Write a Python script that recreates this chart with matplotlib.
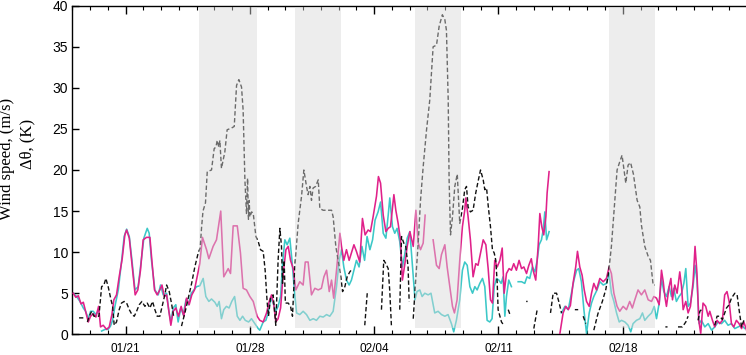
import numpy as np
import matplotlib
matplotlib.use("Agg")
import matplotlib.pyplot as plt
from matplotlib.ticker import MultipleLocator

nan = np.nan

# x in days relative to 01/21
tick_days = [0, 7, 14, 21, 28]
tick_labels = ["01/21", "01/28", "02/04", "02/11", "02/18"]

shade_start = [4.14, 9.53, 16.29, 27.23]
shade_end = [7.41, 12.11, 18.88, 29.80]

pink_day = [-2.95, -2.80, -2.66, -2.51, -2.38, -2.25, -2.10, -1.97, -1.82, -1.67, -1.52, -1.41, -1.26, -1.07, -0.92,
            -0.77, -0.66, -0.51, -0.36, -0.19, -0.04, 0.06, 0.21, 0.36, 0.54, 0.69, 0.84, 0.99, 1.18, 1.37, 1.48,
            1.63, 1.78, 1.93, 2.05, 2.18, 2.31, 2.44, 2.55, 2.68, 2.83, 2.98, 3.13, 3.28, 3.43, 3.58, 3.73, 3.88,
            4.03, 4.18, 4.33, 4.56, 4.69, 4.93, 5.12, 5.36, 5.53, 5.78, 5.91, 6.06, 6.29, 6.47, 6.62, 6.81, 7.0,
            7.19, 7.41, 7.56, 7.75, 7.94, 8.09, 8.22, 8.35, 8.46, 8.59, 8.73, 8.88, 9.03, 9.16, 9.29, 9.44, 9.59,
            9.81, 10.0, 10.12, 10.28, 10.47, 10.66, 10.85, 11.03, 11.17, 11.32, 11.47, 11.6, 11.72, 11.88, 12.07,
            12.16, 12.29, 12.44, 12.59, 12.72, 12.86, 13.0, 13.19, 13.34, 13.49, 13.66, 13.79, 13.94, 14.13, 14.24,
            14.36, 14.51, 14.66, 14.79, 14.92, 15.11, 15.22, 15.35, 15.48, 15.59, 15.73, 15.86, 16.01, 16.2, 16.35,
            16.48, 16.61, 16.76, 16.87, 17.1, 17.32, 17.51, 17.66, 17.79, 17.98, 18.11, 18.26, 18.41, 18.52, 18.67,
            18.82, 18.97, 19.1, 19.16, 19.29, 19.42, 19.57, 19.72, 19.85, 19.99, 20.14, 20.29, 20.42, 20.55, 20.66,
            20.79, 20.93, 21.08, 21.21, 21.32, 21.45, 21.6, 21.73, 21.86, 22.01, 22.16, 22.3, 22.43, 22.58, 22.71,
            22.85, 22.95, 23.1, 23.24, 23.33, 23.44, 23.55, 23.67, 23.74, 23.85, 24.2, 24.46, 24.64, 24.79, 24.93,
            25.05, 25.2, 25.35, 25.45, 25.58, 25.71, 25.83, 25.96, 26.11, 26.24, 26.37, 26.52, 26.71, 26.9, 27.08,
            27.23, 27.36, 27.5, 27.68, 27.83, 28.02, 28.21, 28.39, 28.54, 28.68, 28.86, 29.05, 29.24, 29.43, 29.62,
            29.75, 29.9, 30.05, 30.18, 30.28, 30.37, 30.46, 30.61, 30.71, 30.8, 30.93, 31.06, 31.21, 31.31, 31.4,
            31.55, 31.68, 31.81, 31.96, 32.07, 32.18, 32.28, 32.39, 32.52, 32.67, 32.81, 32.9, 33.05, 33.18, 33.31,
            33.46, 33.61, 33.74, 33.87, 33.99, 34.12, 34.25, 34.4, 34.55, 34.69, 34.82, 34.97]
pink_val = [5.0, 4.5, 4.7, 3.7, 3.9, 2.8, 1.5, 2.2, 2.5, 2.1, 3.4, 0.9, 1.1, 0.6, 0.9,
            2.4, 4.2, 4.8, 7.0, 9.2, 12.1, 12.7, 11.7, 8.6, 4.8, 5.4, 7.8, 11.5, 11.8, 11.8, 9.0,
            5.4, 4.8, 5.4, 6.0, 4.6, 4.8, 2.8, 1.1, 2.8, 3.2, 2.2, 3.4, 2.2, 4.4, 3.6, 4.8, 5.4,
            7.0, 8.6, 11.8, 10.3, 9.2, 10.7, 11.5, 15.0, 7.0, 8.0, 7.4, 13.2, 13.2, 9.9, 5.6, 5.4, 4.6,
            4.0, 2.2, 1.7, 1.5, 2.6, 4.0, 4.8, 3.6, 1.5, 1.9, 3.2, 7.4, 10.3, 10.7, 9.0, 8.0, 5.4,
            6.4, 6.0, 8.8, 8.8, 4.8, 5.6, 5.4, 5.6, 7.0, 7.8, 5.2, 6.6, 4.4, 7.8, 12.3,
            10.7, 9.0, 10.3, 9.0, 9.9, 10.9, 10.1, 8.8, 14.1, 12.1, 12.7, 12.5, 14.3, 16.8, 19.2,
            18.4, 14.5, 12.5, 12.9, 13.1, 17.0, 15.1, 13.5, 11.5, 6.6, 8.6, 10.7, 12.5, 10.7, 15.1,
            11.1, 10.3, 11.1, 14.5, nan, 11.5, 8.4, 8.0, 9.7, 10.9, 8.2, 5.8, 3.4, 2.6, 4.2,
            9.0, 13.1, 15.1, 16.6, 14.3, 11.5, 7.0, 8.6, 8.4, 9.9, 11.5, 10.9, 8.0, 4.2, 3.8,
            9.0, 8.2, 9.0, 10.5, 5.0, 7.4, 8.0, 7.8, 8.6, 7.8, 9.0, 8.0, 8.2, 7.4, 8.4,
            9.2, 7.8, 6.6, 10.9, 14.7, 13.1, 12.1, 14.3, 17.2, 19.8, nan, 0.1, 2.6, 3.4, 3.0,
            3.5, 6.2, 8.2, 10.1, 8.2, 7.2, 5.4, 4.0, 3.4, 5.0, 6.2, 5.4, 6.8, 6.4, 6.8,
            8.2, 7.4, 5.0, 3.4, 2.8, 3.4, 3.0, 4.0, 3.2, 4.2, 5.4, 4.8, 5.4, 4.2, 4.0,
            4.6, 4.4, 3.6, 7.8, 6.4, 4.6, 3.4, 5.8, 6.8, 4.2, 6.0, 5.0, 7.6, 5.8, 3.0,
            4.0, 2.6, 3.4, 6.4, 10.7, 7.4, 1.7, 0.1, 3.8, 3.4, 2.2, 2.8, 1.7, 0.9, 1.7,
            1.3, 1.7, 4.8, 5.2, 4.0, 1.3, 0.9, 1.7, 1.3, 0.7, 1.5, 0.5]

cyan_day = [-2.95, -2.76, -2.57, -2.38, -2.25, -2.10, -1.97, -1.82, -1.67, -1.54, -1.45, -1.35, -1.15, -0.98,
            -0.85, -0.73, -0.60, -0.41, -0.22, -0.08, 0.06, 0.21, 0.36, 0.53, 0.71, 0.84, 1.03, 1.22, 1.33, 1.46,
            1.65, 1.84, 1.97, 2.12, 2.31, 2.44, 2.55, 2.68, 2.83, 2.96, 3.11, 3.25, 3.40, 3.55, 3.70, 3.85, 4.00,
            4.18, 4.37, 4.52, 4.69, 4.84, 5.03, 5.16, 5.27, 5.40, 5.53, 5.68, 5.83, 5.98, 6.14, 6.29, 6.44, 6.59,
            6.74, 6.93, 7.09, 7.28, 7.47, 7.56, 7.75, 7.90, 8.03, 8.18, 8.31, 8.46, 8.59, 8.73, 8.84, 8.97, 9.10,
            9.25, 9.37, 9.49, 9.63, 9.81, 10.0, 10.19, 10.38, 10.57, 10.75, 10.94, 11.13, 11.32, 11.5, 11.69,
            11.88, 12.03, 12.16, 12.29, 12.44, 12.59, 12.72, 12.86, 13.0, 13.15, 13.31, 13.46, 13.6, 13.76, 13.91,
            14.05, 14.22, 14.36, 14.51, 14.66, 14.79, 14.88, 15.03, 15.16, 15.29, 15.44, 15.59, 15.72, 15.86,
            16.01, 16.3, 16.41, 16.57, 16.7, 16.85, 17.04, 17.2, 17.41, 17.6, 17.79, 17.98, 18.16, 18.35, 18.48,
            18.63, 18.82, 18.97, 19.1, 19.24, 19.39, 19.54, 19.67, 19.8, 19.95, 20.1, 20.23, 20.36, 20.51, 20.64,
            20.76, 20.89, 21.02, 21.15, 21.26, 21.36, 21.45, 21.58, 21.73, 21.9, 22.11, 22.3, 22.48, 22.61,
            22.76, 22.91, 23.05, 23.18, 23.29, 23.42, 23.52, 23.61, 23.71, 23.8, 23.85, 24.2, 24.55, 24.74,
            24.93, 25.11, 25.25, 25.4, 25.52, 25.67, 25.81, 25.96, 26.11, 26.24, 26.37, 26.55, 26.71, 26.9,
            27.08, 27.23, 27.36, 27.5, 27.65, 27.8, 27.93, 28.12, 28.3, 28.45, 28.58, 28.77, 28.96, 29.11, 29.24,
            29.43, 29.62, 29.77, 29.9, 30.05, 30.18, 30.31, 30.46, 30.61, 30.74, 30.87, 31.02, 31.17, 31.31,
            31.44, 31.55, 31.68, 31.81, 31.96, 32.07, 32.18, 32.3, 32.43, 32.62, 32.81, 33.0, 33.18, 33.37,
            33.56, 33.74, 33.93, 34.12, 34.31, 34.5, 34.69, 34.87, 34.97]
cyan_val = [5.0, 4.6, 4.0, 3.2, 2.8, 1.9, 2.8, 2.8, 2.4, 2.8, nan, 0.4, 0.6, 0.6,
            1.0, 1.7, 3.4, 5.4, 9.0, 11.9, 12.8, 11.9, 9.0, 5.4, 5.8, 8.2, 11.7, 12.9, 12.3, 9.0,
            5.4, 4.8, 6.0, 4.8, 5.0, 2.8, 1.5, 3.2, 3.6, 1.5, 3.2, 2.4, 4.2, 3.6, 5.0, 5.4, 5.8,
            5.9, 6.8, 4.6, 4.0, 4.3, 3.9, 3.4, 4.0, 1.9, 3.0, 3.4, 3.2, 4.0, 4.6, 2.2, 1.7, 2.2,
            1.7, 1.5, 1.9, 1.3, 0.7, 0.5, 1.5, 1.7, 2.6, 4.4, 3.8, 2.8, 3.4, 4.6, 8.6, 11.5, 10.9,
            11.7, 9.0, 5.8, 2.6, 2.4, 2.8, 2.4, 1.7, 1.9, 1.7, 2.2, 2.1, 2.4, 2.2, 2.8,
            5.8, 9.0, 10.3, 8.2, 6.6, 6.0, 6.6, 7.8, 9.0, 8.2, 10.7, 9.0, 11.9, 10.3, 11.5,
            13.9, 14.9, 16.1, 12.3, 11.7, 14.5, 16.6, 13.1, 12.3, 12.9, 11.3, 8.2, 9.7, 11.7,
            12.5, 4.2, 5.2, 5.4, 4.6, 5.0, 4.8, 5.0, 2.6, 2.8, 2.4, 2.2, 2.4, 1.3, 0.3,
            1.7, 4.2, 7.8, 8.8, 8.4, 5.8, 5.0, 5.8, 5.4, 6.2, 6.8, 5.8, 1.7, 1.5, 1.9,
            5.8, 6.8, 6.6, 6.2, 7.0, 2.2, 4.6, 6.6, 5.8, nan, 6.4, 6.4, 6.2, 7.0,
            6.8, 8.2, 7.6, 9.0, 10.9, 11.5, 12.7, 14.9, 11.5, 12.1, 12.5, nan, 2.6, 3.4,
            3.0, 5.0, 6.6, 7.8, 8.0, 6.4, 3.0, 0.1, 2.6, 3.8, 4.6, 5.4, 6.4, 6.0,
            6.2, 7.4, 5.0, 4.0, 2.6, 1.5, 1.7, 1.5, 1.1, 0.3, 1.3, 1.7, 1.9, 2.6, 1.7,
            2.2, 2.6, 3.4, 1.9, 3.8, 6.8, 5.2, 4.6, 5.8, 4.6, 5.6, 4.0, 4.6, 5.0,
            6.2, 8.0, 3.4, 3.8, 5.8, 8.4, 6.6, 1.3, 1.7, 0.9, 1.3, 0.5, 0.9, 1.5,
            1.3, 1.7, 1.1, 1.3, 0.7, 0.9, 1.1, 0.7, 0.9]

dash_day = [-2.62, -2.38, -2.27, -2.15, -2.05, -1.91, -1.78, -1.63, -1.5, -1.35, -1.22, -1.11, -0.98, -0.84,
            -0.73, -0.64, -0.51, -0.36, -0.23, -0.08, 0.06, 0.21, 0.36, 0.49, 0.62, 0.77, 0.92, 1.09, 1.22, 1.37,
            1.52, 1.65, 1.78, 1.93, 2.08, 2.21, 2.31, 2.46, 2.6, 2.72, 2.9, 3.15, 3.34, 3.53, 3.72, 3.9, 4.09,
            4.2, 4.28, 4.36, 4.5, 4.6, 4.84, 4.99, 5.09, 5.16, 5.25, 5.31, 5.4, 5.59, 5.72, 5.96, 6.12, 6.25,
            6.38, 6.53, 6.62, 6.72, 6.81, 6.87, 6.92, 6.96, 7.0, 7.1, 7.19, 7.34, 7.47, 7.6, 7.75, 7.86, 7.97,
            8.05, 8.16, 8.31, 8.46, 8.59, 8.69, 8.78, 8.84, 8.93, 9.0, 9.16, 9.29, 9.4, 9.53, 9.72, 9.91, 10.04,
            10.19, 10.28, 10.38, 10.47, 10.56, 10.7, 10.85, 10.94, 11.13, 11.41, 11.6, 11.69, 11.84, 11.97, 12.1,
            12.22, 12.35, 12.48, 12.63, 12.78, 13.1, 13.47, 13.61, 14.0, 14.41, 14.54, 14.66, 14.79, 14.88, 14.97,
            15.2, 15.44, 15.54, 15.67, 15.78, 15.91, 15.97, 16.1, 16.2, 16.35, 16.48, 16.61, 16.76, 16.95, 17.13,
            17.32, 17.51, 17.66, 17.84, 17.98, 18.07, 18.17, 18.22, 18.3, 18.41, 18.54, 18.68, 18.82, 18.97, 19.1,
            19.2, 19.29, 19.42, 19.57, 19.72, 19.85, 19.99, 20.14, 20.23, 20.33, 20.42, 20.55, 20.66, 20.76,
            20.85, 20.93, 20.98, 21.17, 21.3, 21.42, 21.55, 21.68, 22.1, 22.56, 22.64, 22.8, 22.99, 23.18, 23.5,
            23.93, 24.08, 24.27, 24.42, 24.55, 24.9, 25.3, 25.49, 25.6, 25.77, 25.92, 26.1, 26.37, 26.6, 26.85,
            27.05, 27.2, 27.36, 27.55, 27.68, 27.83, 27.96, 28.17, 28.3, 28.44, 28.6, 28.81, 28.96, 29.05, 29.24,
            29.43, 29.56, 29.71, 29.8, 30.1, 30.4, 30.52, 30.8, 31.11, 31.36, 31.55, 31.68, 31.9, 32.24, 32.34,
            32.43, 32.8, 33.18, 33.31, 33.46, 33.61, 33.84, 33.99, 34.12, 34.31, 34.44, 34.55, 34.69, 34.82]
dash_val = [2.0, 2.0, nan, 1.5, 2.2, 2.8, 2.2, 2.2, 2.2, 5.8, 6.0, 6.8, 5.8, 4.4,
            3.4, 1.1, 1.5, 3.0, 3.8, 4.0, 3.8, 3.0, 2.4, 2.2, 2.8, 3.6, 4.0, 3.4, 3.8, 3.2,
            4.0, 3.0, 2.2, 2.2, 3.6, 4.8, 6.0, 5.2, 3.6, 2.0, nan, 1.0, 2.6, 4.4, 6.2, 8.2, 9.9,
            10.5, 13.0, 15.0, 16.0, 19.8, 20.0, 22.6, 22.8, 23.6, 22.8, 23.6, 20.2, 22.2, 24.9, 25.1, 25.3, 30.3,
            31.0, 30.1, 27.3, 18.8, 14.7, 19.0, 14.0, 16.3, 14.3, 14.9, 14.7, 11.9, 11.3, 10.3, 10.1, 7.8, 4.0,
            2.2, 4.4, 4.8, 1.1, 9.0, 12.9, 10.7, 6.2, 9.0, 3.8, 3.8, 3.4, 2.2, 8.2, 13.5, 16.8, 20.0,
            18.0, 17.0, 18.0, 16.3, 17.8, 18.0, 18.8, 15.3, 15.1, 15.1, 15.1, 14.3, 10.7, 9.0, 7.4,
            5.2, 5.8, 7.0, 7.6, 8.0, nan, 1.1, 5.0, nan, 3.0, 9.0, 8.6, 8.0, 5.2, 1.1,
            nan, 3.0, 11.9, 11.1, 10.7, 8.2, 4.0, nan, 1.9, 7.0, 11.1, 16.3, 20.4, 24.9, 28.5,
            35.0, 35.2, 37.5, 38.9, 38.3, 37.0, 28.5, 18.8, 12.1, 14.3, 18.0, 19.5, 13.5, 15.3, 17.6,
            18.0, 15.5, 14.9, 15.1, 17.2, 18.6, 20.0, 18.8, 17.6, 17.8, 15.7, 13.1, 10.3, 9.9,
            9.0, 6.2, 3.0, 1.5, 1.1, nan, 3.0, 2.2, nan, 4.0, 4.0, nan, 0.7, 3.0, nan,
            2.6, 5.0, 5.0, 3.8, 2.6, nan, 3.0, 3.0, nan, 2.2, 1.3, nan, 0.5, 2.5, 4.0,
            5.5, 7.5, 10.7, 16.3, 20.0, 21.0, 21.8, 18.4, 20.6, 20.9, 19.5, 16.3, 15.5, 13.3, 10.7,
            9.5, 9.0, 6.0, 6.0, nan, 0.9, 0.9, nan, 0.9, 0.9, 1.5, 2.2, nan, 1.7, 2.8,
            3.0, nan, 1.1, 2.2, 2.2, 1.8, 3.2, 3.6, 4.4, 5.0, 4.8, 3.0, 0.9, 1.7]

fig = plt.figure(figsize=(7.46, 3.55), dpi=100)
ax = fig.add_axes([72.3 / 746, 1 - 334.3 / 355, 1 - 72.3 / 746, (334.3 - 5.7) / 355])

ax.plot(pink_day, pink_val, color="#e0218a", lw=1.15, zorder=3)
ax.plot(cyan_day, cyan_val, color="#3cc8c8", lw=1.15, zorder=2)
ax.plot(dash_day, dash_val, color="#111111", lw=1.0, ls=(0, (3.2, 1.8)), zorder=4)

for s, e in zip(shade_start, shade_end):
    ax.axvspan(s, e, ymin=0.018, ymax=0.996, facecolor="#d9d9d9", alpha=0.45,
               edgecolor="none", zorder=5)

ax.set_xlim(-3.0, 34.94)
ax.set_ylim(0, 40)
ax.set_xticks(tick_days)
ax.set_xticklabels(tick_labels)
ax.xaxis.set_minor_locator(MultipleLocator(1))
ax.yaxis.set_major_locator(MultipleLocator(5))
ax.tick_params(axis="x", which="both", direction="in", top=True, bottom=True)
ax.tick_params(axis="x", which="major", length=6, width=1.0)
ax.tick_params(axis="x", which="minor", length=3, width=0.8)
ax.tick_params(axis="y", which="major", direction="in", length=5, width=1.0, left=True, right=False)
ax.spines["right"].set_visible(False)
for sp in ["left", "bottom", "top"]:
    ax.spines[sp].set_linewidth(1.0)
for lab in ax.get_xticklabels():
    lab.set_fontfamily("Liberation Sans")
    lab.set_fontsize(8.5)
for lab in ax.get_yticklabels():
    lab.set_fontfamily("Liberation Sans")
    lab.set_fontsize(10)
ax.tick_params(axis="x", pad=6)
ax.tick_params(axis="y", pad=3)

fig.text(7.5 / 746, 1 - 158.5 / 355, "Wind speed, (m/s)", rotation=90, ha="center", va="center",
         fontsize=12, family="Liberation Serif")
fig.text(27 / 746, 1 - 144 / 355, "Δθ, (K)", rotation=90, ha="center", va="center",
         fontsize=12, family="Liberation Serif")

fig.savefig("out.png", dpi=100)
